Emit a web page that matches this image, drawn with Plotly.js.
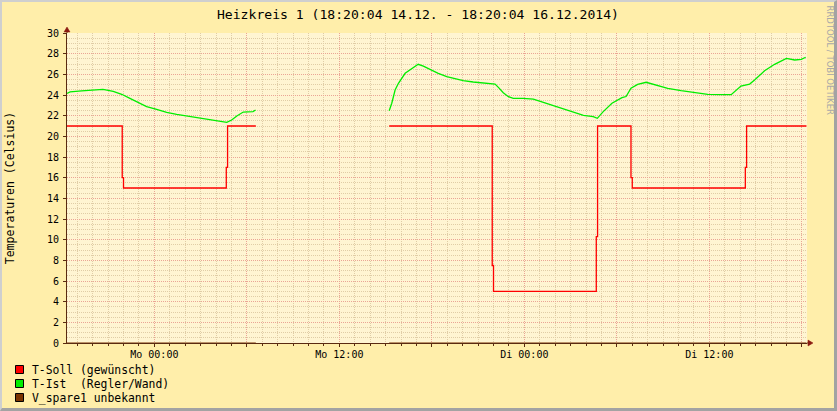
<!DOCTYPE html>
<html>
<head>
<meta charset="utf-8">
<script src="https://cdn.plot.ly/plotly-3.0.1.min.js"></script>
<style>
html,body{margin:0;padding:0;background:#fff;}
#frame{width:837px;height:411px;box-sizing:border-box;border-top:2px solid #cfcfcf;border-left:2px solid #cfcfcf;border-right:3px solid #a3a3a3;border-bottom:3px solid #a3a3a3;background:#FFEEAA;}
#chart{width:832px;height:406px;}
</style>
</head>
<body>
<div id="frame"><div id="chart"></div></div>
<script>
// ---- data ----
const chartTitle = "Heizkreis 1 (18:20:04 14.12. - 18:20:04 16.12.2014)";
const yTitle = "Temperaturen (Celsius)";
const sideText = "RRDTOOL / TOBI OETIKER";
const seriesNames = ["T-Soll (gewünscht)", "T-Ist  (Regler/Wand)", "V_spare1 unbekannt"];
const seriesColors = ["#FF0000", "#00EE00", "#7A3300"];

const tSollTimes = ["2014-12-14 18:20:04","2014-12-14 21:55","2014-12-14 22:00","2014-12-15 04:40","2014-12-15 04:45","2014-12-15 06:35","2014-12-15 06:40",
  "2014-12-15 15:14","2014-12-15 21:55","2014-12-15 22:00","2014-12-16 04:40","2014-12-16 04:45","2014-12-16 06:55","2014-12-16 07:00","2014-12-16 14:20","2014-12-16 14:25","2014-12-16 18:18"];
const tSollValues = [21,16,15,17,21,21,null, 21,7.5,5,10.3,21,16,15,17,21,21];

const tIstTimes = ["2014-12-14 18:20:04","2014-12-14 18:32","2014-12-14 19:17","2014-12-14 20:16","2014-12-14 20:40","2014-12-14 21:20","2014-12-14 21:53",
  "2014-12-14 22:25","2014-12-14 22:58","2014-12-14 23:30","2014-12-15 00:09","2014-12-15 00:48","2014-12-15 01:27","2014-12-15 02:06","2014-12-15 02:58",
  "2014-12-15 03:37","2014-12-15 04:16","2014-12-15 04:42","2014-12-15 05:01","2014-12-15 05:21","2014-12-15 05:46","2014-12-15 06:12","2014-12-15 06:24","2014-12-15 06:34",
  "2014-12-15 06:40",
  "2014-12-15 15:14","2014-12-15 15:24","2014-12-15 15:37","2014-12-15 15:50","2014-12-15 16:16","2014-12-15 16:42","2014-12-15 17:07","2014-12-15 17:27",
  "2014-12-15 17:53","2014-12-15 18:25","2014-12-15 18:58","2014-12-15 19:30","2014-12-15 20:02","2014-12-15 20:41","2014-12-15 21:27","2014-12-15 22:06",
  "2014-12-15 22:19","2014-12-15 22:38","2014-12-15 22:58","2014-12-15 23:17","2014-12-15 23:56","2014-12-16 00:35","2014-12-16 01:14","2014-12-16 01:53",
  "2014-12-16 02:32","2014-12-16 03:11","2014-12-16 03:50","2014-12-16 04:28","2014-12-16 04:44","2014-12-16 05:07","2014-12-16 05:41","2014-12-16 06:20",
  "2014-12-16 06:36","2014-12-16 06:55","2014-12-16 07:21","2014-12-16 07:54","2014-12-16 08:26","2014-12-16 09:18","2014-12-16 10:10","2014-12-16 11:02",
  "2014-12-16 11:54","2014-12-16 12:46","2014-12-16 13:25","2014-12-16 14:03","2014-12-16 14:37","2014-12-16 14:56","2014-12-16 15:35","2014-12-16 16:14",
  "2014-12-16 17:00","2014-12-16 17:32","2014-12-16 17:58","2014-12-16 18:15"];
const tIstValues = [24.16,24.3,24.4,24.55,24.55,24.35,24.07,
  23.68,23.26,22.87,22.6,22.32,22.13,21.97,21.8,
  21.58,21.48,21.36,21.58,21.97,22.35,22.39,22.4,22.55,
  null,
  22.48,23.2,24.48,25.13,26.1,26.58,26.97,26.8,
  26.48,26.1,25.77,25.55,25.39,25.26,25.19,25.06,
  24.74,24.22,23.84,23.68,23.68,23.61,23.29,22.97,
  22.65,22.32,22.03,21.9,21.74,22.39,23.2,23.75,
  23.85,24.65,25.03,25.23,25.03,24.65,24.42,24.22,
  24.07,24.03,24.03,24.87,25.06,25.45,26.35,26.97,
  27.55,27.39,27.45,27.65];

const vSpareTimes = ["2014-12-14 18:20:04","2014-12-15 06:35","2014-12-15 06:40","2014-12-15 15:14","2014-12-16 18:18"];
const vSpareValues = [0,0,null,0,0];

const xRange = ["2014-12-14 18:20:04","2014-12-16 18:20:04"];
const xTickVals = ["2014-12-15 00:00","2014-12-15 06:00","2014-12-15 12:00","2014-12-15 18:00","2014-12-16 00:00","2014-12-16 06:00","2014-12-16 12:00","2014-12-16 18:00"];
const xTickText = ["Mo 00:00","","Mo 12:00","","Di 00:00","","Di 12:00",""];
const yTickVals = [0,2,4,6,8,10,12,14,16,18,20,22,24,26,28,30];

// ---- chart ----
const mono = "DejaVu Sans Mono, monospace";
const axisCol = "#5A2A10";
const majorGrid = "#EBA595";
const minorGrid = "#E0CDA6";
const dots = "1px,1px";

const traces = [
  {x: vSpareTimes, y: vSpareValues, mode:"lines", line:{color:seriesColors[2], width:1.2, shape:"hv"}, connectgaps:false, hoverinfo:"skip"},
  {x: tSollTimes, y: tSollValues, mode:"lines", line:{color:seriesColors[0], width:1.3, shape:"hv"}, connectgaps:false, hoverinfo:"skip"},
  {x: tIstTimes, y: tIstValues, mode:"lines", line:{color:seriesColors[1], width:1.3}, connectgaps:false, hoverinfo:"skip"}
];

const W = 740, H = 310; // plot area px
const px = v => v / W, py = v => v / H;

const shapes = [
  {type:"line", xref:"paper", yref:"paper", x0:1, x1:1+px(2), y0:0, y1:0, line:{color:axisCol, width:1}},
  {type:"path", xref:"paper", yref:"paper", path:`M ${1+px(1)} ${py(-3)} L ${1+px(6)} 0 L ${1+px(1)} ${py(3)} Z`, fillcolor:"#8B1A10", line:{color:"#8B1A10", width:0.5}},
  {type:"line", xref:"paper", yref:"paper", x0:0, x1:0, y0:1, y1:1+py(2), line:{color:axisCol, width:1}},
  {type:"path", xref:"paper", yref:"paper", path:`M ${px(-3)} ${1+py(1)} L 0 ${1+py(6)} L ${px(3)} ${1+py(1)} Z`, fillcolor:"#8B1A10", line:{color:"#8B1A10", width:0.5}}
];

const annotations = [
  {text: sideText, xref:"paper", yref:"paper", x:1+px(22.5), y:1+py(-27), xanchor:"center", yanchor:"middle", textangle:90, showarrow:false, font:{family:"DejaVu Sans, sans-serif", size:8.5, color:"#A8A8A8"}}
];
seriesNames.forEach((name, i) => {
  const yc = -py(369.5 - 343 + 14 * i);
  shapes.push({type:"rect", xref:"paper", yref:"paper", x0:px(15.5 - 67), x1:px(23.5 - 67), y0:yc - py(4), y1:yc + py(4), fillcolor:seriesColors[i], line:{color:"#000", width:1}});
  annotations.push({text: name.replace(/ /g, "&nbsp;"), xref:"paper", yref:"paper", x:px(30 - 67), y:yc, xanchor:"left", yanchor:"middle", showarrow:false, font:{family:mono, size:11.4, color:"#000"}});
});

const layout = {
  width: 832, height: 406,
  margin: {l:65, r:27, t:31, b:65, pad:0},
  paper_bgcolor: "#FFEEAA",
  plot_bgcolor: "#FFF5D2",
  showlegend: false,
  title: {text: chartTitle, x:0.5, xref:"container", xanchor:"center", y:1-12/406, yref:"container", yanchor:"middle", font:{family:mono, size:13.1, color:"#000"}},
  font: {family: mono, size:10, color:"#000"},
  xaxis: {
    type:"date", range:xRange, tickmode:"array", tickvals:xTickVals, ticktext:xTickText,
    ticks:"outside", ticklen:3, tickcolor:axisCol, tickwidth:1,
    showline:true, linecolor:axisCol, linewidth:1,
    showgrid:true, gridcolor:majorGrid, griddash:dots, gridwidth:1,
    zeroline:false, tickfont:{family:mono, size:10, color:"#000"},
    ticklabelstandoff:-1,
    minor:{tickmode:"linear", tick0:"2014-12-14 19:00", dtick:3600000, ticks:"outside", ticklen:2, tickcolor:axisCol, showgrid:true, gridcolor:minorGrid, griddash:dots, gridwidth:1},
    fixedrange:true
  },
  yaxis: {
    range:[0,30], tickmode:"array", tickvals:yTickVals,
    ticks:"outside", ticklen:3, tickcolor:axisCol, tickwidth:1,
    showline:true, linecolor:axisCol, linewidth:1,
    showgrid:true, gridcolor:majorGrid, griddash:dots, gridwidth:1,
    zeroline:false, tickfont:{family:mono, size:10, color:"#000"},
    ticklabelstandoff:2,
    minor:{tickmode:"linear", tick0:0, dtick:0.5, ticks:"", showgrid:true, gridcolor:minorGrid, griddash:dots, gridwidth:1},
    title:{text:yTitle, font:{family:mono, size:11.5, color:"#000"}, standoff:29},
    fixedrange:true
  },
  shapes: shapes,
  annotations: annotations
};

Plotly.newPlot("chart", traces, layout, {staticPlot:true, displayModeBar:false});
</script>
</body>
</html>
